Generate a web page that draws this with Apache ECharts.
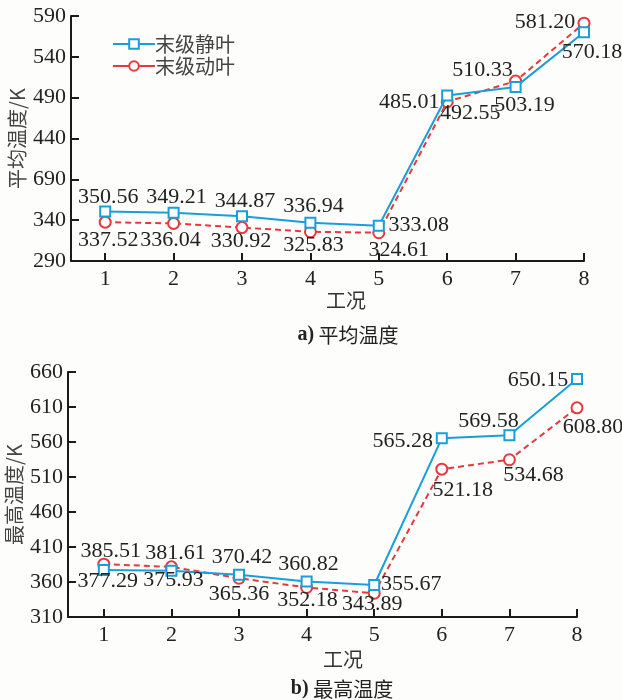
<!DOCTYPE html>
<html>
<head>
<meta charset="utf-8">
<script src="https://cdn.jsdelivr.net/npm/echarts@6/dist/echarts.min.js"></script>
<style>
  html, body { margin: 0; padding: 0; background: #fdfdfb; }
  #chart { width: 622px; height: 700px; }
</style>
</head>
<body>
<div id="chart"></div>
<script>
// Working conditions (工况)
const caseNo = [1, 2, 3, 4, 5, 6, 7, 8];

// a) 平均温度 (K)
const avgStator = [350.56, 349.21, 344.87, 336.94, 333.08, 492.55, 503.19, 570.18];
const avgRotor  = [337.52, 336.04, 330.92, 325.83, 324.61, 485.01, 510.33, 581.20];
const avgTicks  = [290, 340, 390, 440, 490, 540, 590];
const avgTickText = ['290', '340', '690', '440', '490', '540', '590'];

// b) 最高温度 (K)
const maxStator = [377.29, 375.93, 370.42, 360.82, 355.67, 565.28, 569.58, 650.15];
const maxRotor  = [385.51, 381.61, 365.36, 352.18, 343.89, 521.18, 534.68, 608.80];
const maxTicks  = [310, 360, 410, 460, 510, 560, 610, 660];

const seriesNames = ['末级静叶', '末级动叶'];

// label placement (pixel offsets from each marker)
const avgStatorOff = [[3,-14],[3,-15],[3,-15],[3,-16],[40,-1],[23,18],[9,18],[8,20]];
const avgRotorOff  = [[3,18],[-3,17],[-1,14],[3,13],[20,17],[-38,0],[-33,-11],[-39,-1]];
const maxStatorOff = [[4,11],[2,9],[3,-17],[2,-17],[37,-1],[-39,3],[-21,-14],[-39,1]];
const maxRotorOff  = [[7,-13],[4,-14],[0,16],[1,13],[-2,11],[21,21],[24,15],[16,19]];

const BLUE = '#1a9ed8';
const RED = '#e8383d';
const SERIF = '"Liberation Serif", "Times New Roman", serif';
const CJK = '"Noto Sans CJK SC", sans-serif';

function pairs(xs, ys, offs) {
  return xs.map((x, i) => ({
    value: [x, ys[i]],
    label: { offset: offs[i] }
  }));
}

function lineSeries(name, ys, offs, idx, isRotor) {
  return {
    name: name,
    type: 'line',
    xAxisIndex: idx,
    yAxisIndex: idx,
    data: pairs(caseNo, ys, offs),
    symbol: isRotor ? 'emptyCircle' : 'emptyRect',
    symbolSize: isRotor ? 11 : 10,
    itemStyle: { color: isRotor ? RED : BLUE, borderWidth: 2 },
    lineStyle: {
      color: isRotor ? RED : BLUE,
      width: 2,
      type: isRotor ? [6, 4] : 'solid'
    },
    z: isRotor ? 3 : 4,
    label: {
      show: true,
      position: 'inside',
      align: 'center',
      verticalAlign: 'middle',
      fontFamily: SERIF,
      fontSize: 22,
      color: '#222',
      formatter: p => p.value[1].toFixed(2)
    },
    animation: false
  };
}

function xAxisDef(idx, min) {
  return {
    type: 'value',
    gridIndex: idx,
    min: min,
    max: 8,
    axisLine: { lineStyle: { color: '#1a1a1a', width: 2 } },
    axisTick: { inside: true, length: 8, customValues: caseNo, lineStyle: { color: '#1a1a1a', width: 2 } },
    axisLabel: { customValues: caseNo, fontFamily: SERIF, fontSize: 22, color: '#222', margin: 7 },
    splitLine: { show: false }
  };
}

function yAxisDef(idx, ticks, texts, name) {
  return {
    type: 'value',
    gridIndex: idx,
    min: ticks[0],
    max: ticks[ticks.length - 1],
    name: name,
    nameLocation: 'middle',
    nameGap: 44,
    nameMoveOverlap: false,
    nameRotate: 90,
    nameTextStyle: { fontFamily: CJK, fontSize: 20, color: '#444' },
    axisLine: { show: true, lineStyle: { color: '#1a1a1a', width: 2 } },
    axisTick: { inside: true, length: 8, customValues: ticks, lineStyle: { color: '#1a1a1a', width: 2 } },
    axisLabel: {
      customValues: ticks,
      fontFamily: SERIF, fontSize: 22, color: '#222', margin: 5,
      formatter: v => texts[ticks.indexOf(v)] ?? String(v)
    },
    splitLine: { show: false }
  };
}

const captionStyle = {
  fontFamily: CJK, fontSize: 20, fontWeight: 'normal', color: '#222',
  rich: { t: { fontFamily: SERIF, fontSize: 20, fontWeight: 'bold', color: '#222' } }
};

const chart = echarts.init(document.getElementById('chart'), null, { renderer: 'canvas' });
chart.setOption({
  backgroundColor: '#fdfdfb',
  animation: false,
  title: [
    { text: '工况', left: 341, top: 285, textAlign: 'center',
      textStyle: { fontFamily: CJK, fontSize: 20, fontWeight: 'normal', color: '#333' } },
    { text: '{t|a)} 平均温度', left: 343, top: 320, textAlign: 'center', textStyle: captionStyle },
    { text: '工况', left: 338, top: 644, textAlign: 'center',
      textStyle: { fontFamily: CJK, fontSize: 20, fontWeight: 'normal', color: '#333' } },
    { text: '{t|b)} 最高温度', left: 337, top: 674, textAlign: 'center', textStyle: captionStyle }
  ],
  legend: {
    data: seriesNames,
    orient: 'vertical',
    left: 107,
    top: 29,
    itemWidth: 42,
    itemHeight: 12,
    itemGap: 2,
    lineStyle: { type: 'solid' },
    textStyle: { fontFamily: CJK, fontSize: 20, color: '#444', padding: [0, 0, 0, -5] }
  },
  grid: [
    { left: 71, top: 16, width: 513, height: 245, containLabel: false, outerBoundsMode: 'none' },
    { left: 68, top: 372, width: 509, height: 245, containLabel: false, outerBoundsMode: 'none' }
  ],
  xAxis: [xAxisDef(0, 0.5), xAxisDef(1, 0.47)],
  yAxis: [
    yAxisDef(0, avgTicks, avgTickText, '平均温度/K'),
    yAxisDef(1, maxTicks, maxTicks.map(String), '最高温度/K')
  ],
  series: [
    lineSeries(seriesNames[0], avgStator, avgStatorOff, 0, false),
    lineSeries(seriesNames[1], avgRotor, avgRotorOff, 0, true),
    lineSeries(seriesNames[0], maxStator, maxStatorOff, 1, false),
    lineSeries(seriesNames[1], maxRotor, maxRotorOff, 1, true)
  ]
});
</script>
</body>
</html>
